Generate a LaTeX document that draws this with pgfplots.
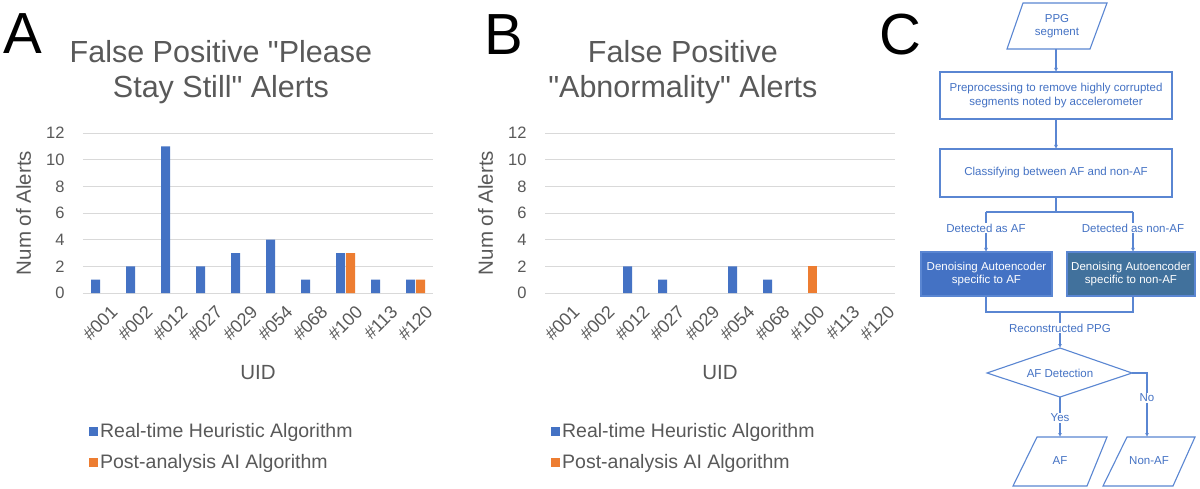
\documentclass[border=0pt]{standalone}
\usepackage{fontspec}
\setmainfont{Liberation Sans}[Ligatures=TeXOff]
\usepackage{pgfplots}
\pgfplotsset{compat=1.18}
\usetikzlibrary{arrows.meta}
\definecolor{barblue}{HTML}{4472C4}
\definecolor{barorange}{HTML}{ED7D31}
\definecolor{txtgray}{HTML}{595959}
\definecolor{gridgray}{HTML}{D9D9D9}
\definecolor{flowblue}{HTML}{4472C4}
\definecolor{flowline}{HTML}{5A86D2}
\definecolor{darkbox}{HTML}{41719C}

\pgfplotsset{
  alertaxis/.style={
    scale only axis, width=350pt, height=160pt,
    ymin=0, ymax=12, ytick={0,2,...,12},
    xmin=-0.5, xmax=9.5, xtick={0,...,9},
    xticklabels={\#001,\#002,\#012,\#027,\#029,\#054,\#068,\#100,\#113,\#120},
    axis line style={draw=none},
    major tick length=0pt,
    ymajorgrids, major grid style={gridgray, line width=0.9pt},
    ybar, bar width=9pt,
    /pgf/number format/assume math mode=true,
    tick label style={txtgray, font=\fontsize{16.5}{19}\selectfont},
    yticklabel style={xshift=-15pt},
    xticklabel style={font=\fontsize{18}{20}\selectfont, rotate=45, anchor=east, yshift=-21pt, xshift=2pt},
    label style={txtgray, font=\fontsize{20.5}{24}\selectfont},
    xlabel={UID}, ylabel={Num of Alerts},
    xlabel style={at={(axis description cs:0.5,-0.5)}, anchor=center},
    ylabel style={at={(axis description cs:-0.17,0.5)}, anchor=center},
    title style={at={(axis description cs:0.394,1.34)}, anchor=center, align=center, txtgray, font=\fontsize{30.5}{35}\selectfont},
    legend style={at={(axis description cs:0.017,-0.80)}, anchor=north west, draw=none, fill=none,
      font=\fontsize{19.5}{23}\selectfont, text=txtgray, row sep=12pt, inner sep=0pt},
    legend image code/.code={\fill[#1,draw=none] (0pt,-4.5pt) rectangle (9pt,4.5pt);},
    legend cell align=left,
  }
}

\begin{document}
\begin{tikzpicture}
\useasboundingbox[fill=white] (0pt,0pt) rectangle (1200pt,488pt);

% Panel letters
\node[font=\fontsize{58}{60}\selectfont, anchor=center] at (23pt,454pt) {A};
\node[font=\fontsize{58}{60}\selectfont, anchor=center] at (504pt,453pt) {B};
\node[font=\fontsize{58}{60}\selectfont, anchor=center] at (900pt,453pt) {C};

% Panel A
\begin{axis}[alertaxis, at={(83pt,195pt)}, anchor=south west,
  title={False Positive "Please\\Stay Still" Alerts}]
\addplot[fill=barblue, draw=none, bar shift=-5pt] coordinates {
 (0,1) (1,2) (2,11) (3,2) (4,3) (5,4) (6,1) (7,3) (8,1) (9,1)};
\addplot[fill=barorange, draw=none, bar shift=5pt] coordinates {
 (7,3) (9,1)};
\legend{Real-time Heuristic Algorithm, Post-analysis AI Algorithm}
\end{axis}

% Panel B
\begin{axis}[alertaxis, at={(545pt,195pt)}, anchor=south west,
  title={False Positive\\"Abnormality" Alerts}]
\addplot[fill=barblue, draw=none, bar shift=-5pt] coordinates {
 (2,2) (3,1) (5,2) (6,1)};
\addplot[fill=barorange, draw=none, bar shift=5pt] coordinates {
 (7,2)};
\legend{Real-time Heuristic Algorithm, Post-analysis AI Algorithm}
\end{axis}

% Panel C flowchart
\begin{scope}[shift={(0pt,488pt)}, x=1pt, y=-1pt,
  fl/.style={flowline, line width=1.1pt},
  arr/.style={flowline, line width=1.1pt, -{Latex[length=4pt,width=4pt]}},
  ft/.style={font=\fontsize{11.5}{13.5}\selectfont, text=flowblue, align=center},
  lbl/.style={ft, fill=white, inner sep=1pt}]
 % PPG segment
 \draw[fl, fill=white] (1023,3) -- (1107,3) -- (1090,49) -- (1007,49) -- cycle;
 \node[ft] at (1057,26) {PPG\\segment};
 \draw[arr] (1056,49) -- (1056,72);
 % Preprocessing
 \draw[fl, fill=white] (940,72) rectangle (1172,119);
 \node[ft] at (1056,95.5) {Preprocessing to remove highly corrupted\\segments noted by accelerometer};
 \draw[arr] (1056,119) -- (1056,149);
 % Classifying
 \draw[fl, fill=white] (940,149) rectangle (1172,197);
 \node[ft] at (1056,173) {Classifying between AF and non-AF};
 % branch
 \draw[fl] (1056,197) -- (1056,212);
 \draw[fl] (986,212) -- (1133,212);
 \draw[arr] (986,212) -- (986,252);
 \draw[arr] (1133,212) -- (1133,252);
 \node[lbl] at (986,228) {Detected as AF};
 \node[lbl] at (1133,228) {Detected as non-AF};
 % autoencoders
 \draw[fl, fill=barblue] (921,252) rectangle (1052,296);
 \node[ft, text=white] at (986.5,274) {Denoising Autoencoder\\specific to AF};
 \draw[fl, fill=darkbox] (1067,252) rectangle (1195,296);
 \node[ft, text=white] at (1131,274) {Denoising Autoencoder\\specific to non-AF};
 % merge
 \draw[fl] (986,296) -- (986,312) -- (1133,312) -- (1133,296);
 \draw[arr] (1060,312) -- (1060,348);
 \node[lbl] at (1060,328) {Reconstructed PPG};
 % diamond
 \draw[fl, fill=white] (1060,348) -- (1132,373) -- (1060,397) -- (987,373) -- cycle;
 \node[ft] at (1060,373) {AF Detection};
 % yes / no
 \draw[arr] (1060,397) -- (1060,437);
 \node[lbl] at (1060,418) {Yes};
 \draw[arr] (1132,373) -- (1147,373) -- (1147,437);
 \node[lbl] at (1147,398) {No};
 % outputs
 \draw[fl, fill=white] (1037,437) -- (1107,437) -- (1087,486) -- (1013,486) -- cycle;
 \node[ft] at (1060,461) {AF};
 \draw[fl, fill=white] (1127,437) -- (1195,437) -- (1173,486) -- (1103,486) -- cycle;
 \node[ft] at (1149,461) {Non-AF};
\end{scope}
\end{tikzpicture}
\end{document}
